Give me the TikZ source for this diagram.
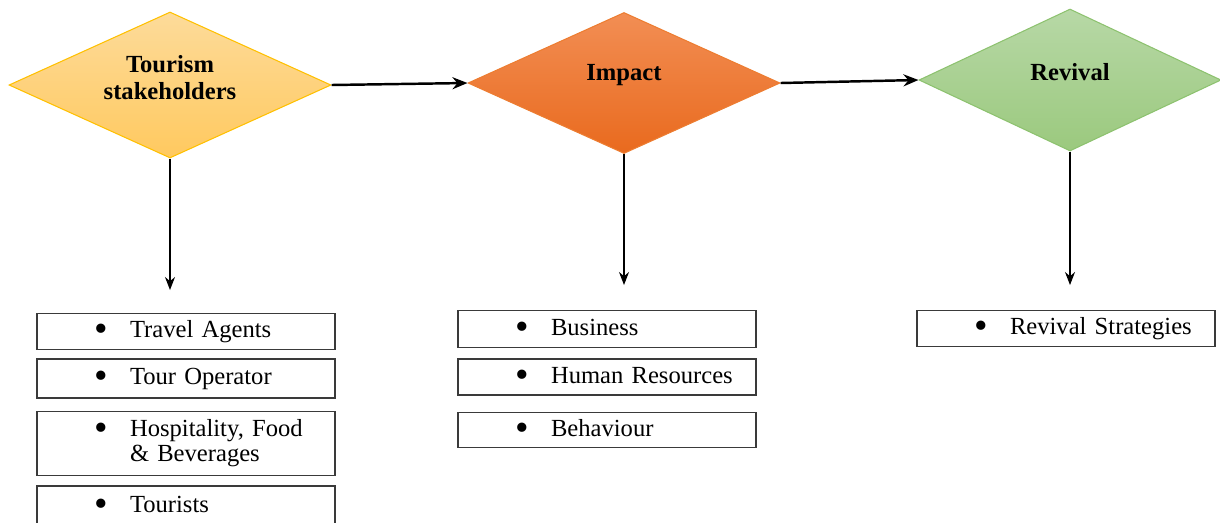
\documentclass[tikz,border=0pt]{standalone}
\usepackage{fontspec}
\setmainfont{Liberation Serif}
\usetikzlibrary{positioning, shapes.geometric, arrows.meta}

\definecolor{stakeTop}{HTML}{FDDB9A}
\definecolor{stakeBottom}{HTML}{FFC95F}
\definecolor{stakeLine}{HTML}{FFC000}
\definecolor{impactTop}{HTML}{F28E54}
\definecolor{impactBottom}{HTML}{E96A1E}
\definecolor{impactLine}{HTML}{ED7D31}
\definecolor{revivalTop}{HTML}{B7D8A6}
\definecolor{revivalBottom}{HTML}{9BC97E}
\definecolor{revivalLine}{HTML}{8DC26F}
\definecolor{boxgray}{HTML}{3A3A3A}

\newcommand{\bulletline}[1]{\hspace*{1.14cm}\makebox[0.72cm][l]{\raisebox{-0.35ex}{\fontsize{22}{22}\selectfont\textbullet}}#1}

\tikzset{
    decision/.style={diamond, line width=0.6pt, inner sep=0pt},
    headline/.style={font=\fontsize{14}{15}\selectfont\bfseries, align=center},
    listbox/.style={draw=boxgray, line width=0.8pt, inner sep=0pt, text width=5.96cm,
        align=left, font=\fontsize{14}{14.2}\selectfont},
    flow/.style={-{Stealth[length=3mm,width=2.4mm]}, line width=1.4pt},
    downarrow/.style={-{Stealth[length=2.6mm,width=2mm]}, line width=0.7pt},
}

\begin{document}
\begin{tikzpicture}
    \useasboundingbox (0,0) rectangle (24.4,-10.44);

    % the three stages
    \node[decision, draw=stakeLine, top color=stakeTop, bottom color=stakeBottom,
        minimum width=6.44cm, minimum height=2.92cm] (stakeholders) at (3.40,-1.70) {};
    \node[decision, draw=impactLine, top color=impactTop, bottom color=impactBottom,
        minimum width=6.24cm, minimum height=2.82cm] (impact) at (12.48,-1.66) {};
    \node[decision, draw=revivalLine, top color=revivalTop, bottom color=revivalBottom,
        minimum width=6.04cm, minimum height=2.84cm] (revival) at (21.40,-1.60) {};

    \node[headline] (stakeholdersText) at ([yshift=0.15cm]stakeholders.center) {Tourism\\stakeholders};
    \node[headline] (impactText) at ([yshift=0.16cm]impact.center) {Impact};
    \node[headline] (revivalText) at ([yshift=0.16cm]revival.center) {Revival};

    \draw[flow] (stakeholders.east) -- (impact.west);
    \draw[flow] (impact.west -| impact.east) -- (revival.west);

    % arrows down to the lists
    \coordinate (stakeholdersEnd) at (stakeholders.south |- 0,-5.80);
    \coordinate (impactEnd) at (impact.south |- 0,-5.70);
    \coordinate (revivalEnd) at (revival.south |- 0,-5.70);
    \draw[downarrow] (stakeholders.south) -- (stakeholdersEnd);
    \draw[downarrow] (impact.south) -- (impactEnd);
    \draw[downarrow] (revival.south) -- (revivalEnd);

    % stakeholders list
    \node[listbox, minimum height=0.72cm, anchor=north] (travel) at (3.72,-6.26) {\bulletline{Travel Agents}};
    \node[listbox, minimum height=0.78cm, below=0.16cm of travel] (tour) {\bulletline{Tour Operator}};
    \node[listbox, minimum height=1.28cm, below=0.24cm of tour] (hospitality)
        {\bulletline{Hospitality, Food}\\\hspace*{1.86cm}\& Beverages};
    \node[listbox, minimum height=0.80cm, below=0.18cm of hospitality] (tourists) {\bulletline{Tourists}};

    % impact list
    \node[listbox, minimum height=0.74cm, anchor=north] (business) at (12.14,-6.20) {\bulletline{Business}};
    \node[listbox, minimum height=0.72cm, below=0.20cm of business] (human) {\bulletline{Human Resources}};
    \node[listbox, minimum height=0.70cm, below=0.32cm of human] (behaviour) {\bulletline{Behaviour}};

    % revival list
    \node[listbox, minimum height=0.72cm, anchor=north] (strategies) at (21.32,-6.20) {\bulletline{Revival Strategies}};
\end{tikzpicture}
\end{document}
